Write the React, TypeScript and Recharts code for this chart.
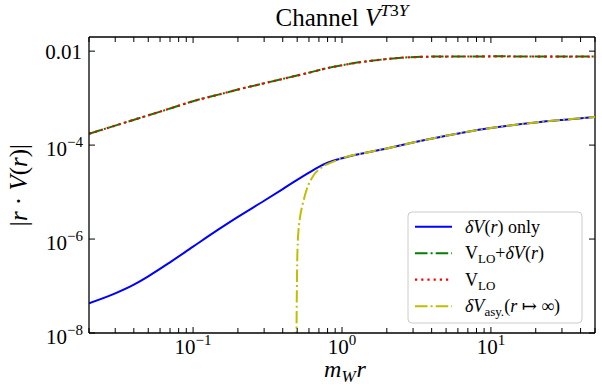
import React from 'react';
import { LineChart, Line, XAxis, YAxis, ReferenceLine } from 'recharts';

// m_W r values and |r V(r)|
const rLO = [0.02, 0.03, 0.05, 0.07, 0.1, 0.15, 0.22, 0.3, 0.45, 0.6, 0.8, 1.0, 1.3, 1.9, 2.5, 3.5, 5, 8, 12, 20, 30, 50];
const vLO = [1.74e-4, 2.6e-4, 4.3e-4, 6.0e-4, 8.6e-4, 1.2e-3, 1.64e-3, 2.07e-3, 2.8e-3, 3.47e-3, 4.36e-3, 5.0e-3, 5.75e-3, 6.65e-3, 7.25e-3, 7.55e-3, 7.67e-3, 7.7e-3, 7.7e-3, 7.68e-3, 7.66e-3, 7.65e-3];
const vLOplusDelta = [1.74e-4, 2.6e-4, 4.3e-4, 6.0e-4, 8.6e-4, 1.2e-3, 1.64e-3, 2.07e-3, 2.8e-3, 3.48e-3, 4.37e-3, 5.02e-3, 5.77e-3, 6.67e-3, 7.27e-3, 7.58e-3, 7.7e-3, 7.73e-3, 7.74e-3, 7.72e-3, 7.7e-3, 7.7e-3];

const rDelta = [0.02, 0.03, 0.04, 0.05, 0.07, 0.1, 0.15, 0.2, 0.3, 0.4, 0.5, 0.6, 0.7, 0.8, 1.0, 1.5, 2, 3, 5, 7, 10, 20, 30, 50];
const vDelta = [4.3e-8, 6.98e-8, 1.07e-7, 1.61e-7, 3.2e-7, 6.9e-7, 1.64e-6, 2.96e-6, 6.53e-6, 1.16e-5, 1.82e-5, 2.59e-5, 3.44e-5, 4.21e-5, 5.26e-5, 7.05e-5, 8.5e-5, 1.13e-4, 1.58e-4, 1.93e-4, 2.31e-4, 3.04e-4, 3.44e-4, 3.95e-4];

const rAsy = [0.49, 0.5, 0.505, 0.51, 0.52, 0.55, 0.58, 0.64, 0.72, 0.8, 0.9, 1.0, 1.5, 2, 3, 5, 7, 10, 20, 30, 50];
const vAsy = [1e-10, 3e-7, 9e-7, 1.5e-6, 2.6e-6, 6.3e-6, 1.15e-5, 2.2e-5, 3.25e-5, 3.95e-5, 4.6e-5, 5.26e-5, 7.05e-5, 8.5e-5, 1.13e-4, 1.58e-4, 1.93e-4, 2.31e-4, 3.04e-4, 3.44e-4, 3.95e-4];

const xTicks = [0.02, 0.03, 0.04, 0.05, 0.06, 0.07, 0.08, 0.09, 0.1, 0.2, 0.3, 0.4, 0.5, 0.6, 0.7, 0.8, 0.9, 1, 2, 3, 4, 5, 6, 7, 8, 9, 10, 20, 30, 40, 50];
const yTicks = [1e-8, 1e-6, 1e-4, 1e-2];

const PLOT_W = 506;
const PLOT_H = 296;
const FONT = '"Liberation Serif", "DejaVu Serif", serif';

const DASHDOT = '12.5 3.1 2 3.1';
const DOTTED = '2.2 4';

const zip = (rs: number[], vs: number[]) => rs.map((r, i) => ({ r, v: vs[i] }));

const sup = (n: number) => (n < 0 ? '\u2212' + -n : String(n));

const XTick = (props: any) => {
  const { x, y, payload } = props;
  const e = Math.log10(payload.value);
  const major = Math.abs(e - Math.round(e)) < 1e-6;
  const len = major ? 6 : 5;
  return (
    <g>
      <line x1={x} y1={y} x2={x} y2={y - len} stroke="#000" strokeWidth={1} />
      <line x1={x} y1={y - PLOT_H} x2={x} y2={y - PLOT_H + len} stroke="#000" strokeWidth={1} />
      {major && (
        <text x={x} y={y + 21} textAnchor="middle" fontSize={21} fontFamily={FONT} fill="#000">
          10<tspan dy={-9} fontSize={15}>{sup(Math.round(e))}</tspan>
        </text>
      )}
    </g>
  );
};

const YTick = (props: any) => {
  const { x, y, payload } = props;
  const e = Math.round(Math.log10(payload.value));
  return (
    <g>
      <line x1={x} y1={y} x2={x + 6} y2={y} stroke="#000" strokeWidth={1} />
      <line x1={x + PLOT_W} y1={y} x2={x + PLOT_W - 6} y2={y} stroke="#000" strokeWidth={1} />
      {e === -2 ? (
        <text x={x - 7} y={y + 8} textAnchor="end" fontSize={21} fontFamily={FONT} fill="#000">0.01</text>
      ) : (
        <text x={x - 6} y={y + 11} textAnchor="end" fontSize={21} fontFamily={FONT} fill="#000">
          10<tspan dy={-9} fontSize={15}>{sup(e)}</tspan>
        </text>
      )}
    </g>
  );
};

const legendRows = [
  { color: '#0000ff', dash: undefined, width: 2 },
  { color: '#008000', dash: DASHDOT, width: 2 },
  { color: '#ff0000', dash: DOTTED, width: 2.2 },
  { color: '#bfbf00', dash: DASHDOT, width: 2 },
];

export default function App() {
  return (
    <div style={{ position: 'absolute', left: 0, top: 0, width: 602, height: 390, background: '#fff' }}>
      <LineChart width={602} height={390} margin={{ top: 37, right: 7, left: 0, bottom: 0 }}>
        <XAxis
          dataKey="r"
          type="number"
          scale="log"
          domain={[0.02, 50]}
          allowDataOverflow
          ticks={xTicks}
          interval={0}
          height={57}
          tickSize={0}
          tickMargin={0}
          tick={<XTick />}
          axisLine={{ stroke: '#000', strokeWidth: 1.3 }}
        />
        <YAxis
          type="number"
          scale="log"
          domain={[1e-8, 0.02]}
          allowDataOverflow
          ticks={yTicks}
          interval={0}
          width={89}
          tickSize={0}
          tickMargin={0}
          tick={<YTick />}
          axisLine={{ stroke: '#000', strokeWidth: 1.3 }}
        />
        <ReferenceLine y={0.02} stroke="#000" strokeWidth={1.3} />
        <ReferenceLine x={50} stroke="#000" strokeWidth={1.3} />
        <Line data={zip(rDelta, vDelta)} dataKey="v" type="monotone" stroke="#0000ff" strokeWidth={2} dot={false} isAnimationActive={false} />
        <Line data={zip(rLO, vLOplusDelta)} dataKey="v" type="monotone" stroke="#008000" strokeWidth={2} strokeDasharray={DASHDOT} dot={false} isAnimationActive={false} />
        <Line data={zip(rLO, vLO)} dataKey="v" type="monotone" stroke="#ff0000" strokeWidth={2.2} strokeDasharray={DOTTED} dot={false} isAnimationActive={false} />
        <Line data={zip(rAsy, vAsy)} dataKey="v" type="monotone" stroke="#bfbf00" strokeWidth={2} strokeDasharray={DASHDOT} dot={false} isAnimationActive={false} />
      </LineChart>

      <svg width={602} height={390} style={{ position: 'absolute', left: 0, top: 0, pointerEvents: 'none' }} fontFamily={FONT} fill="#000">
        {/* title */}
        <text x={342} y={26} textAnchor="middle" fontSize={25}>
          Channel <tspan fontStyle="italic">V</tspan>
          <tspan dy={-10} fontSize={17.5} fontStyle="italic">T</tspan>
          <tspan fontSize={17.5}>3</tspan>
          <tspan fontSize={17.5} fontStyle="italic">Y</tspan>
        </text>
        {/* x label */}
        <text x={345} y={377} textAnchor="middle" fontSize={24}>
          <tspan fontStyle="italic">m</tspan>
          <tspan dy={5} fontSize={17} fontStyle="italic">W</tspan>
          <tspan dy={-5} dx={1} fontStyle="italic">r</tspan>
        </text>
        {/* y label */}
        <text transform="translate(27,185) rotate(-90)" textAnchor="middle" fontSize={25}>
          |<tspan fontStyle="italic">r</tspan> · <tspan fontStyle="italic">V</tspan>(<tspan fontStyle="italic">r</tspan>)|
        </text>

        {/* legend */}
        <rect x={408} y={212} width={174} height={111} rx={4} fill="#fff" stroke="#cccccc" strokeWidth={1} />
        {legendRows.map((row, i) => {
          const cy = 226.7 + i * 26.5;
          return (
            <line key={i} x1={415} x2={452} y1={cy} y2={cy} stroke={row.color} strokeWidth={row.width} strokeDasharray={row.dash} />
          );
        })}
        <text x={465} y={226.7 + 6} fontSize={18}>
          <tspan fontStyle="italic">δV</tspan>(<tspan fontStyle="italic">r</tspan>) only
        </text>
        <text x={465} y={253.2 + 6} fontSize={18}>
          V<tspan dy={4} fontSize={13}>LO</tspan><tspan dy={-4}>+</tspan><tspan fontStyle="italic">δV</tspan>(<tspan fontStyle="italic">r</tspan>)
        </text>
        <text x={465} y={279.7 + 6} fontSize={18}>
          V<tspan dy={4} fontSize={13}>LO</tspan>
        </text>
        <text x={465} y={306.2 + 6} fontSize={18}>
          <tspan fontStyle="italic">δV</tspan><tspan dy={4} fontSize={13}>asy.</tspan><tspan dy={-4}>(</tspan><tspan fontStyle="italic">r</tspan> ↦ ∞)
        </text>
      </svg>
    </div>
  );
}
